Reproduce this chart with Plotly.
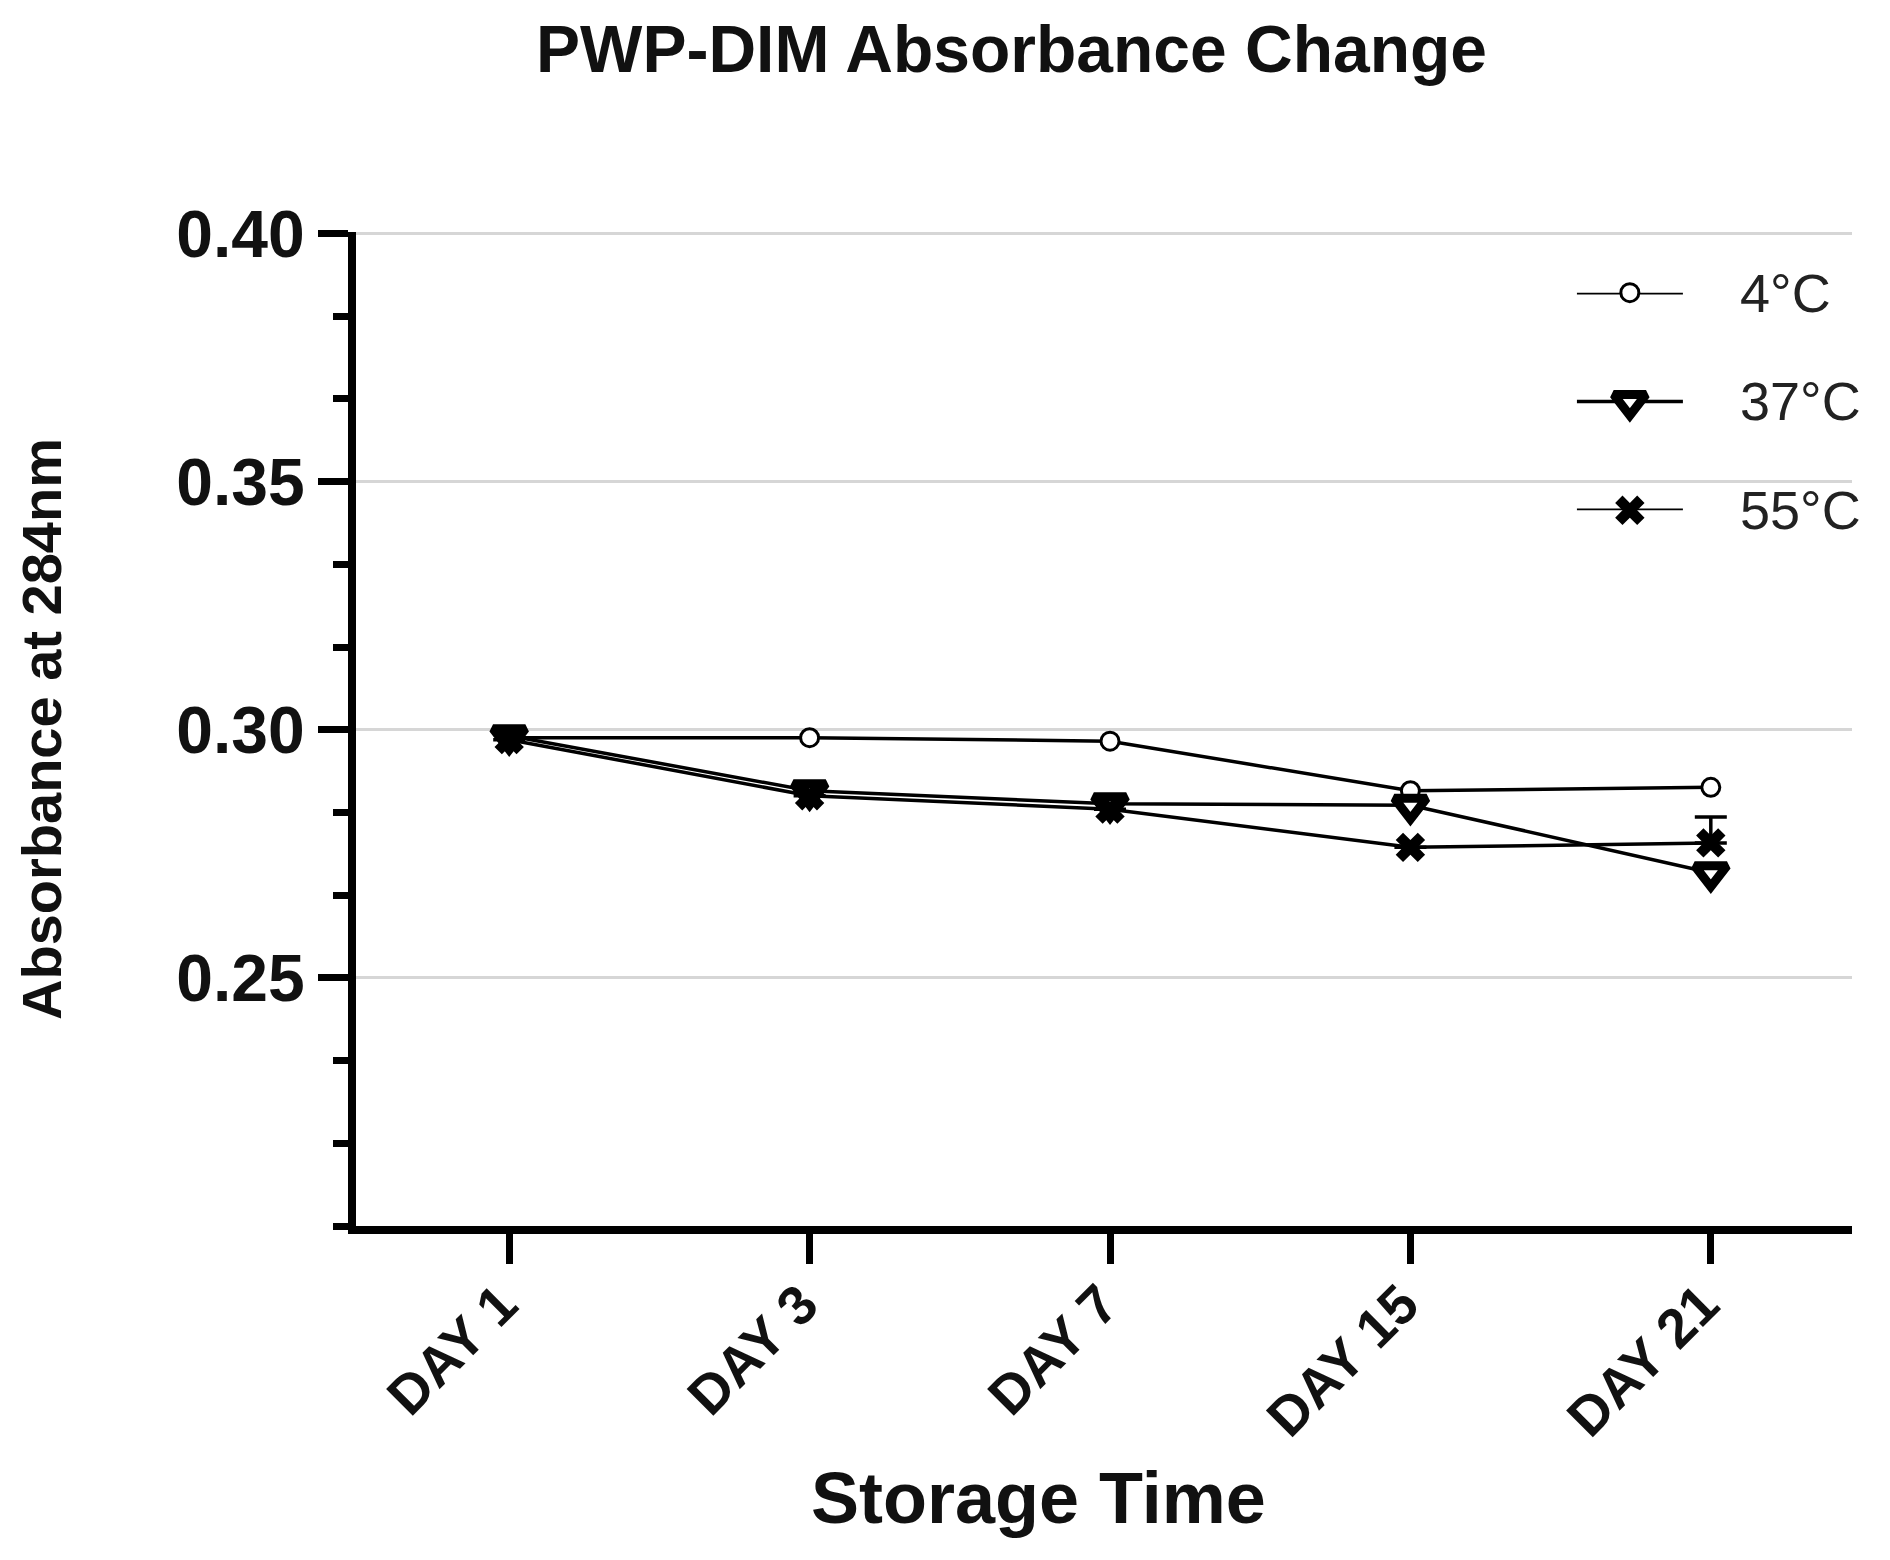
"""PWP-DIM absorbance change over storage time at three temperatures."""

import plotly.graph_objects as go

# values
days = ["DAY 1", "DAY 3", "DAY 7", "DAY 15", "DAY 21"]
temps = ["4°C", "37°C", "55°C"]
abs_4c = [0.2984, 0.2984, 0.2977, 0.2877, 0.2884]
abs_37c = [0.2988, 0.2877, 0.2851, 0.2848, 0.2712]
abs_55c = [0.2980, 0.2867, 0.2840, 0.2763, 0.2772]
err_55c_up = [0.0, 0.0, 0.0, 0.0, 0.0052]
y_ticks = [0.25, 0.30, 0.35, 0.40]

FONT = "Liberation Sans, Arial, sans-serif"

marker_styles = {
    "4°C": dict(symbol="circle", size=18, color="white",
                line=dict(color="black", width=3)),
    "37°C": dict(symbol="triangle-down", size=28, color="white",
                 line=dict(color="black", width=9)),
    "55°C": dict(symbol="x", size=26, color="black",
                 line=dict(color="black", width=0)),
}

series = {"4°C": abs_4c, "37°C": abs_37c, "55°C": abs_55c}

fig = go.Figure()

for name in temps:
    err = None
    if name == "55°C":
        err = dict(type="data", array=err_55c_up,
                   arrayminus=[0.0] * len(err_55c_up),
                   color="black", thickness=3.5, width=16)
    fig.add_trace(
        go.Scatter(
            x=days,
            y=series[name],
            mode="lines+markers",
            name=name,
            line=dict(color="black", width=3.5),
            marker=marker_styles[name],
            error_y=err,
            showlegend=False,
            xaxis="x",
            yaxis="y",
        )
    )

# hand-drawn legend on its own little axes so the sample lines are long
for row, name in enumerate(temps):
    fig.add_trace(
        go.Scatter(
            x=[0, 1], y=[row, row], mode="lines",
            line=dict(color="black", width=3.5),
            showlegend=False, hoverinfo="skip", cliponaxis=False,
            xaxis="x2", yaxis="y2",
        )
    )
    fig.add_trace(
        go.Scatter(
            x=[0.5], y=[row], mode="markers",
            marker=marker_styles[name],
            showlegend=False, hoverinfo="skip", cliponaxis=False,
            xaxis="x2", yaxis="y2",
        )
    )
    fig.add_annotation(
        text=name, x=0.924, xref="paper", y=row, yref="y2",
        xanchor="left", yanchor="middle", showarrow=False,
        font=dict(family=FONT, size=54, color="#222222"),
    )

# x axis title placed by hand: it sits left of the plot centre in the original
fig.add_annotation(
    text="Storage Time", x=0.456, xref="paper", y=-0.274,
    yref="paper", xanchor="center", yanchor="middle", showarrow=False,
    font=dict(family=FONT, size=72, weight="bold", color="#111111"),
)

fig.update_layout(
    width=1890,
    height=1560,
    paper_bgcolor="white",
    plot_bgcolor="rgba(0,0,0,0)",
    margin=dict(l=348, r=46, t=224, b=342),
    font=dict(family=FONT, color="black"),
    title=dict(
        text="PWP-DIM Absorbance Change",
        font=dict(family=FONT, size=66, weight="bold", color="#111111"),
        x=0.531, xanchor="center", xref="container",
        y=1 - 41 / 1560, yanchor="middle", yref="container",
    ),
    xaxis=dict(
        type="category",
        range=[-0.51, 4.47],
        showline=True, linecolor="black", linewidth=8,
        ticks="outside", ticklen=30, tickwidth=7, tickcolor="black",
        tickangle=-45,
        tickfont=dict(family=FONT, size=55, weight="bold", color="#111111"),
        ticklabelstandoff=-14,
        ticklabelshift=-8,
        showgrid=False, zeroline=False,
    ),
    yaxis=dict(
        range=[0.20, 0.4003],
        tickmode="array", tickvals=y_ticks, tickformat=".2f",
        showline=True, linecolor="black", linewidth=8,
        ticks="outside", ticklen=30, tickwidth=7, tickcolor="black",
        tickfont=dict(family=FONT, size=66, weight="bold", color="#111111"),
        minor=dict(tickmode="linear", tick0=0.20, dtick=0.05 / 3,
                   ticks="outside", ticklen=15, tickwidth=7,
                   tickcolor="black", showgrid=False),
        showgrid=True, gridcolor="#d6d6d6", gridwidth=3,
        zeroline=False,
        title=dict(
            text="Absorbance at 284nm",
            font=dict(family=FONT, size=56, weight="bold", color="#111111"),
            standoff=100,
        ),
    ),
    xaxis2=dict(domain=[0.816, 0.887], range=[0, 1], anchor="y2",
                visible=False, fixedrange=True),
    yaxis2=dict(domain=[0.720, 0.939], range=[len(temps) - 1, 0], anchor="x2",
                visible=False, fixedrange=True),
)

fig.write_html("out.html")
